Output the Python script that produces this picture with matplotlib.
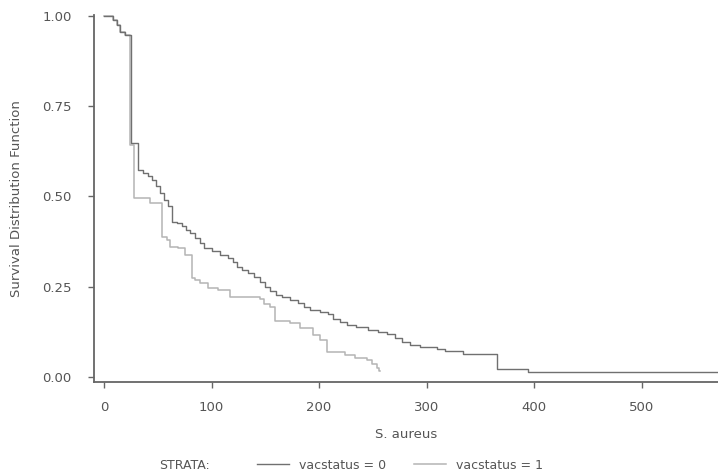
#Kaplan-Meier curves for S. aureus by vacstatus
import matplotlib
matplotlib.use("Agg")
import matplotlib.pyplot as plt
from matplotlib.lines import Line2D

plt.rcParams['font.family'] = ['Liberation Sans Narrow', 'DejaVu Sans']

# vacstatus = 0 (step times, survival)
T0 = [0, 8.4, 12.1, 14.9, 19.5, 25.1, 31.6, 36.3, 40.9, 44.7, 48.4, 52.1, 55.8, 59.5,
      63.3, 67.9, 72.6, 76.3, 80.0, 84.7, 89.3, 93.0, 100.5, 107.9, 115.3, 120.0,
      123.7, 128.4, 134.0, 139.5, 145.1, 149.8, 154.4, 160.0, 165.6, 173.0, 180.5,
      186.0, 191.6, 200.9, 208.4, 213.0, 219.5, 226.0, 234.4, 245.6, 254.9, 263.3,
      270.7, 277.2, 284.7, 294.0, 309.8, 317.2, 334.0, 365.6, 394.4, 571.0]
S0 = [1.000, 0.989, 0.975, 0.956, 0.947, 0.648, 0.573, 0.565, 0.557, 0.546, 0.529,
      0.510, 0.490, 0.474, 0.429, 0.427, 0.418, 0.407, 0.399, 0.385, 0.371, 0.357,
      0.349, 0.338, 0.330, 0.319, 0.305, 0.296, 0.288, 0.277, 0.263, 0.249, 0.238,
      0.227, 0.222, 0.213, 0.205, 0.194, 0.186, 0.180, 0.175, 0.161, 0.152, 0.144,
      0.139, 0.130, 0.125, 0.119, 0.108, 0.097, 0.089, 0.083, 0.078, 0.072, 0.064,
      0.022, 0.014, 0.014]

# vacstatus = 1
T1 = [0, 8.4, 12.1, 14.9, 19.5, 24.2, 27.9, 42.8, 54.0, 58.6, 61.4, 68.8, 75.3,
      81.9, 84.7, 89.3, 96.7, 106.0, 117.2, 145.1, 148.8, 154.4, 159.1, 173.0,
      182.3, 194.4, 200.9, 207.4, 224.2, 233.5, 244.7, 249.3, 254.0, 255.5, 256.2]
S1 = [1.000, 0.989, 0.975, 0.956, 0.947, 0.643, 0.495, 0.482, 0.388, 0.380, 0.360,
      0.357, 0.338, 0.274, 0.269, 0.260, 0.247, 0.241, 0.222, 0.216, 0.202, 0.194,
      0.155, 0.150, 0.135, 0.116, 0.102, 0.069, 0.061, 0.053, 0.047, 0.036, 0.025,
      0.015, 0.015]

YTicks = [0.0, 0.25, 0.5, 0.75, 1.0]
XTicks = [0, 100, 200, 300, 400, 500]

COL0 = "#707070"
COL1 = "#b4b4b4"
TXT = "#555555"

fig = plt.figure(figsize=(7.18, 4.75), dpi=100)
ax = fig.add_axes([0.131, 0.196, 0.869, 0.773])

ax.step(T1, S1, where='post', color=COL1, lw=1.1)
ax.step(T0, S0, where='post', color=COL0, lw=1.0)

ax.set_xlim(-9.3, 571)
ax.set_ylim(-0.014, 1.003)
ax.set_xticks(XTicks)
ax.set_yticks(YTicks)
ax.set_yticklabels(["%.2f" % v for v in YTicks])

for s in ['top', 'right']:
    ax.spines[s].set_visible(False)
for s in ['left', 'bottom']:
    ax.spines[s].set_color("#666666")
    ax.spines[s].set_linewidth(1.3)
ax.tick_params(direction='out', length=4, width=1, color="#666666",
               labelcolor=TXT, labelsize=9.5)
ax.tick_params(axis='x', pad=10)
ax.tick_params(axis='y', pad=12)

ax.set_xlabel("S. aureus", color=TXT, fontsize=9.5, labelpad=10)
ax.set_ylabel("Survival Distribution Function", color=TXT, fontsize=9.5, labelpad=14)

# legend at bottom
fig.text(0.222, 0.021, "STRATA:", color=TXT, fontsize=9, va='center')
handles = [Line2D([], [], color=COL0, lw=1.0), Line2D([], [], color=COL1, lw=1.1)]
fig.legend(handles, ["vacstatus = 0", "vacstatus = 1"], loc='center',
           bbox_to_anchor=(0.557, 0.021), ncol=2, frameon=False, fontsize=9,
           handlelength=2.6, columnspacing=2.2, labelcolor=TXT)

plt.savefig("out.png", dpi=100)
